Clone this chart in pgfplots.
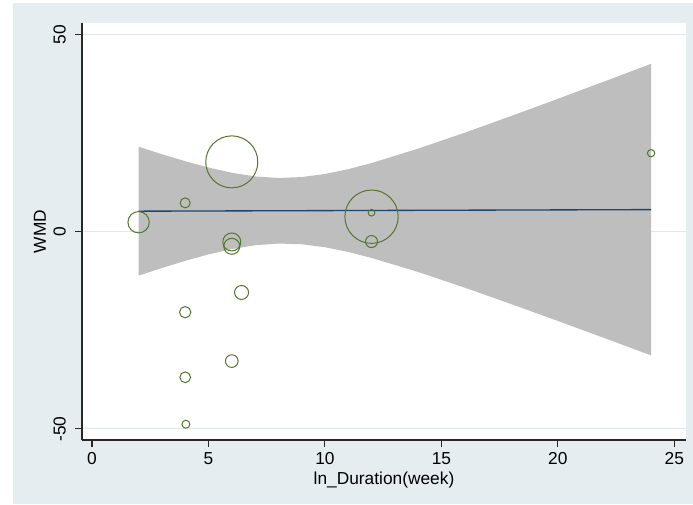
\documentclass[border=0pt]{standalone}
\usepackage{pgfplots}
\pgfplotsset{compat=1.18}
\usepackage{fontspec}
\setmainfont{Liberation Sans}
\definecolor{bgouter}{RGB}{229,237,240}
\definecolor{gridc}{RGB}{222,233,236}
\definecolor{bandgray}{RGB}{190,190,190}
\definecolor{navyline}{RGB}{26,71,111}
\definecolor{mkgreen}{RGB}{86,117,45}
\definecolor{axc}{RGB}{40,40,40}
\begin{document}
\begin{tikzpicture}
\useasboundingbox (-61.5pt,-48pt) rectangle (458.25pt,330pt);
\fill[bgouter] (-51.75pt,-48pt) rectangle (458.25pt,327.75pt);
\begin{axis}[
  at={(0,0)}, anchor=south west,
  scale only axis,
  width=453pt, height=312.75pt,
  xmin=-0.43, xmax=25.5,
  ymin=-52.8, ymax=52.9,
  axis background/.style={fill=white},
  axis x line*=bottom, axis y line*=left,
  axis line style={axc, line width=0.8pt},
  every axis x line/.append style={-},
  every axis y line/.append style={-},
  xtick={0,5,10,15,20,25},
  ytick={-50,0,50},
  tick align=outside,
  major tick length=5pt,
  tick style={axc, line width=0.8pt},
  ymajorgrids,
  major grid style={gridc, line width=0.8pt},
  tick label style={font=\fontsize{13}{15}\selectfont},
  /pgf/number format/assume math mode=true,
  yticklabel style={rotate=90, anchor=south, inner sep=0pt, yshift=7pt},
  xticklabel style={inner sep=0pt, yshift=-4pt, anchor=north},
  xlabel={ln\_Duration(week)},
  ylabel={WMD},
  label style={font=\fontsize{13}{15}\selectfont},
  xlabel style={at={(axis description cs:0.5,-0.096)}, anchor=center},
  ylabel style={at={(axis description cs:-0.0695,0.5)}, anchor=center},
  clip=true,
]
% confidence band
\addplot[fill=bandgray, draw=none] coordinates {
(2,21.53) (3,19.64) (4,17.87) (5,16.26) (6,14.94) (7,14.01) (8,13.62) (9,13.84)
(10,14.63) (11,15.85) (12,17.40) (14,21.05) (16,25.09) (18,29.33) (20,33.69)
(22,38.09) (24,42.55)
(24,-31.35) (22,-26.97) (20,-22.63) (18,-18.35) (16,-14.19) (14,-10.21)
(12,-6.64) (11,-5.13) (10,-3.93) (9,-3.18) (8,-3.00) (7,-3.43) (6,-4.40)
(5,-5.76) (4,-7.39) (3,-9.20) (2,-11.13)
} -- cycle;
% fitted line
\addplot[navyline, line width=1pt] coordinates {(2,5.2) (24,5.6)};
% bubbles
\addplot[scatter, only marks, mark=o, point meta=0,
  scatter/use mapped color={draw=mkgreen, fill=none},
  mark options={line width=0.75pt},
  visualization depends on={\thisrow{r}\as\rad},
  scatter/@pre marker code/.append style={/tikz/mark size=\rad}]
table[x=x, y=y] {
x y r
6 17.7 19.5
4 7.3 3.75
2 2.4 8
6 -2.6 6.75
6 -3.7 6
12 3.8 20
12 4.8 2.5
12 -2.5 4.5
6.42 -15.4 5.25
4 -20.4 4.25
6 -32.8 4.75
4 -36.9 4
4.03 -48.8 3
24 19.9 2.75
};
\end{axis}
\end{tikzpicture}
\end{document}
